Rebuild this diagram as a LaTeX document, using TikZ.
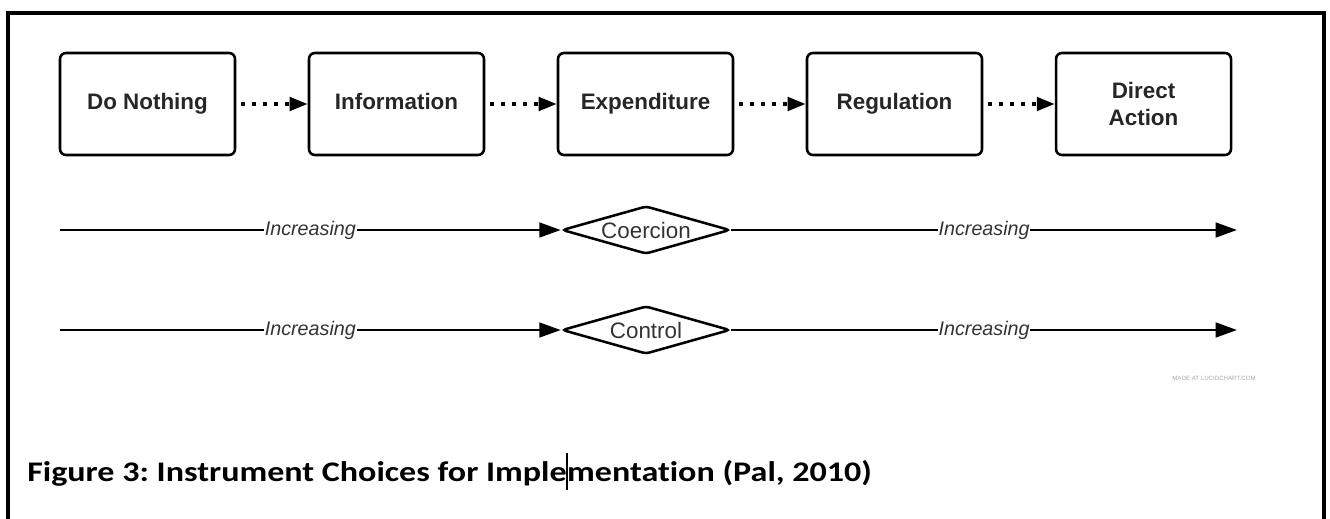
\documentclass[tikz,border=0pt]{standalone}
\usepackage{fontspec}
\setmainfont{Liberation Sans}
\newfontfamily\capfont[Ligatures=NoCommon]{Carlito}
\usetikzlibrary{shapes.geometric,arrows.meta}
\frenchspacing
\begin{document}
\begin{tikzpicture}[x=0.75pt,y=-0.75pt,
  stepbox/.style={draw, line width=1.9pt, rounded corners=4.5pt,
    minimum width=131.25pt, minimum height=76.5pt, align=center,
    text=black!85, font=\fontsize{16.8}{20}\selectfont\bfseries},
  oneline/.style={text height=12.2pt, text depth=3.6pt},
  dotarrow/.style={line width=2.8pt, dash pattern=on 3pt off 5.25pt, dash phase=4.5pt,
    -{Triangle[length=13.5pt,width=10pt]}},
  arr/.style={line width=1.9pt, -{Triangle[length=16pt,width=11pt]}},
  lbl/.style={fill=white, inner sep=0.6pt, text=black!80,
    font=\fontsize{14.8}{17}\selectfont\itshape},
  dia/.style={draw, diamond, line width=1.9pt, rounded corners=2.5pt,
    minimum width=126pt, minimum height=36pt, inner sep=0pt, aspect=3.5,
    text=black!80, font=\fontsize{16.8}{19}\selectfont},
  capt/.style={anchor=base west, inner sep=0pt, font=\capfont\bfseries\fontsize{21.3}{25}\selectfont}]
\useasboundingbox (0,0) rectangle (1330,518);
% frame
\draw[line width=2.3pt] (8,520) -- (8,13) -- (1324,13) -- (1324,520);
% top boxes
\node[stepbox, oneline] (b1) at (147.5,104) {Do Nothing};
\node[stepbox, oneline] (b2) at (396.5,104) {Information};
\node[stepbox, oneline] (b3) at (645.5,104) {Expenditure};
\node[stepbox, oneline] (b4) at (894.5,104) {Regulation};
\node[stepbox] (b5) at (1143.5,104) {Direct\\Action};
\draw[dotarrow] (b1.east) -- (b2.west);
\draw[dotarrow] (b2.east) -- (b3.west);
\draw[dotarrow] (b3.east) -- (b4.west);
\draw[dotarrow] (b4.east) -- (b5.west);
% coercion row
\coordinate (s1) at (60,230);
\coordinate (e1) at (1237,230);
\node[dia] (co) at (646,230) {Coercion};
\draw[arr] (s1) -- node[lbl] {Increasing} (co.west);
\draw[arr] (co.east) -- node[lbl] {Increasing} (e1);
% control row
\coordinate (s2) at (60,330);
\coordinate (e2) at (1237,330);
\node[dia] (ct) at (646,330) {Control};
\draw[arr] (s2) -- node[lbl] {Increasing} (ct.west);
\draw[arr] (ct.east) -- node[lbl] {Increasing} (e2);
% watermark
\node[text=black!35, font=\fontsize{4.6}{5}\selectfont] (wm) at (1214,378) {MADE AT LUCIDCHART.COM};
% caption
\node[capt] (capa) at (27,481) {\scalebox{1.2}[1]{Figure 3: Instrument Choices for Imple}};
\node[capt] (capb) at (capa.base east) {\scalebox{1.2}[1]{mentation (Pal, 2010)}};
\draw[line width=1pt] ([yshift=21pt]capa.base east) -- ([yshift=-7pt]capa.base east);
\end{tikzpicture}
\end{document}
